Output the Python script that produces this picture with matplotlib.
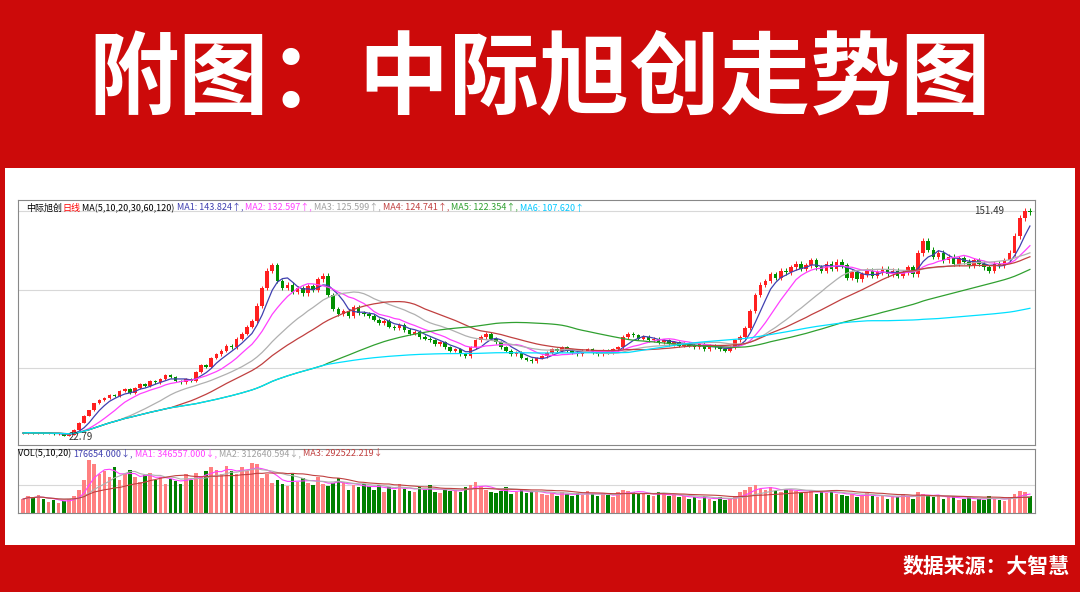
import numpy as np
import pandas as pd
import matplotlib
matplotlib.use("Agg")
import matplotlib.pyplot as plt
from matplotlib.patches import Rectangle

plt.rcParams['font.family'] = ['Noto Sans CJK SC', 'DejaVu Sans']

closes = [25,25.5,24.8,25.2,24.6,25,24.3,24.8,23.5,24,
          27,31,35,38,42,44,
          45,47,46,49,50,48,51,53,52,55,54,56,58,57,
          55,54,56,55,
          60,64,63,68,70,72,75,74,79,82,86,89,
          98,108,118,121,
          112,108,110,106,108,105,109,107,
          113,115,
          104,96,93,95,92,97,94,93,
          92,90,88,89,86,85,87,84,82,83,80,79,78,76,77,74,72,73,70,69,
          74,78,80,82,79,77,
          74,72,70,71,68,67,66,68,69,
          71,73,72,74,72,71,70,72,73,71,70,72,71,73,74,
          80,82,81,79,80,78,79,77,78,76,77,75,76,75,
          74,76,73,75,74,73,72,74,
          78,80,85,95,104,110,
          112,116,114,118,117,120,122,119,121,124,120,118,122,119,123,121,
          114,117,113,116,118,115,117,119,116,118,115,117,120,116,
          128,135,
          130,126,128,124,126,122,125,123,121,124,122,120,118,122,121,124,
          128,138,148,152,151.49]
volumes = [250,300,280,320,260,200,230,180,220,260,
           300,420,600,950,880,700,
           750,650,820,600,700,780,640,560,690,720,600,650,520,610,
           580,520,700,600,
           720,650,760,820,780,700,840,760,700,820,760,900,
           880,620,700,540,
           600,520,480,700,560,620,540,500,
           640,520,
           480,540,620,560,420,500,460,520,
           480,420,500,380,460,420,520,440,400,380,460,420,500,380,360,440,400,420,380,460,
           500,560,480,420,380,360,
           400,460,340,380,420,360,400,380,340,
           320,360,300,380,340,300,360,320,400,340,300,360,320,280,380,
           420,400,380,340,360,320,300,380,340,300,320,280,300,260,
           280,240,300,260,220,280,240,260,
           300,380,420,460,500,440,
           420,460,400,380,440,420,400,360,380,420,340,380,360,400,340,320,
           300,340,280,320,360,300,280,320,260,300,280,340,300,260,
           380,340,
           320,280,300,260,280,300,240,260,280,220,260,240,300,260,240,220,
           280,340,400,380,300]
ma_periods = [5, 10, 20, 30, 60, 120]
ma_colors = ['#4040b0', '#ff40ff', '#b0b0b0', '#c04040', '#30a030', '#00e0ff']

n = min(len(closes), len(volumes))
c = np.array(closes[:n], float)
o = np.concatenate([[c[0]], c[:-1]])
up = c >= o
hi = np.maximum(o, c) * 1.012
lo = np.minimum(o, c) * 0.988
x = np.arange(n)

fig = plt.figure(figsize=(10.8, 5.92), dpi=100)
fig.patch.set_facecolor('#cc0a0a')
fig.text(0.5, 0.866, '附图：中际旭创走势图', color='white', fontsize=65,
         fontweight='bold', ha='center', va='center')
fig.text(0.99, 0.043, '数据来源：大智慧', color='white', fontsize=15,
         fontweight='bold', ha='right', va='center')
bg = fig.add_axes([5/1080, 47/592, 1070/1080, 377/592])
bg.set_facecolor('white'); bg.set_xticks([]); bg.set_yticks([])
for sp in bg.spines.values():
    sp.set_visible(False)

ax = fig.add_axes([18/1080, 1-445/592, 1017/1080, 245/592])
ax.set_xlim(-1, n)
ax.set_ylim(18.2, 158.4)
for yv in [62, 107, 152]:
    ax.axhline(yv, color='#d8d8d8', lw=0.8, zorder=0)
for i in range(n):
    col = '#ff2020' if up[i] else '#009000'
    ax.vlines(x[i], lo[i], hi[i], color=col, lw=0.7)
    ax.add_patch(Rectangle((x[i]-0.35, min(o[i], c[i])), 0.7,
                           max(abs(c[i]-o[i]), 0.3), color=col, lw=0))
s = pd.Series(c)
for p, colr in zip(ma_periods, ma_colors):
    ax.plot(x, s.rolling(p, min_periods=1).mean(), color=colr, lw=0.9)
ax.text(n-6, 152, '151.49', fontsize=7, ha='right', va='center', color='#333')
ax.text(9, 22.5, '22.79', fontsize=7, ha='left', va='center', color='#333')
ax.set_xticks([]); ax.set_yticks([])
for sp in ax.spines.values():
    sp.set_color('#888'); sp.set_linewidth(0.8)

hdr = [('中际旭创', 'black'), ('日线', 'red'), (' MA(5,10,20,30,60,120) ', 'black'),
       ('MA1: 143.824↑,', '#4040b0'), (' MA2: 132.597↑,', '#ff40ff'),
       (' MA3: 125.599↑,', '#a0a0a0'), (' MA4: 124.741↑,', '#c04040'),
       (' MA5: 122.354↑,', '#30a030'), (' MA6: 107.620↑', '#00c8ff')]
fig.canvas.draw()
xt = 0.008
for t, colr in hdr:
    tx = ax.text(xt, 0.985, t, transform=ax.transAxes, fontsize=6.5, color=colr,
                 va='top', ha='left')
    bb = tx.get_window_extent(renderer=fig.canvas.get_renderer()).transformed(ax.transAxes.inverted())
    xt = bb.x1

vx = fig.add_axes([18/1080, 1-513/592, 1017/1080, 64/592])
v = np.array(volumes[:n], float)
vx.bar(x[up], v[up], width=0.7, color='#ff8080')
vx.bar(x[~up], v[~up], width=0.7, color='#008000')
vs = pd.Series(v)
for p, colr in zip([5, 10, 20], ['#ff40ff', '#b0b0b0', '#c04040']):
    vx.plot(x, vs.rolling(p, min_periods=1).mean(), color=colr, lw=0.8)
vx.set_xlim(-1, n)
vx.set_ylim(0, 1150)
vx.axhline(500, color='#d8d8d8', lw=0.8, zorder=0)
vx.set_xticks([]); vx.set_yticks([])
for sp in vx.spines.values():
    sp.set_color('#888'); sp.set_linewidth(0.8)
vh = [('VOL(5,10,20) ', 'black'), ('176654.000↓,', '#4040b0'),
      (' MA1: 346557.000↓,', '#ff40ff'), (' MA2: 312640.594↓,', '#a0a0a0'),
      (' MA3: 292522.219↓', '#c04040')]
xt = 0.0
for t, colr in vh:
    tx = vx.text(xt, 1.0, t, transform=vx.transAxes, fontsize=6.5, color=colr,
                 va='top', ha='left')
    bb = tx.get_window_extent(renderer=fig.canvas.get_renderer()).transformed(vx.transAxes.inverted())
    xt = bb.x1

fig.savefig('out.png', dpi=100, facecolor=fig.get_facecolor())
